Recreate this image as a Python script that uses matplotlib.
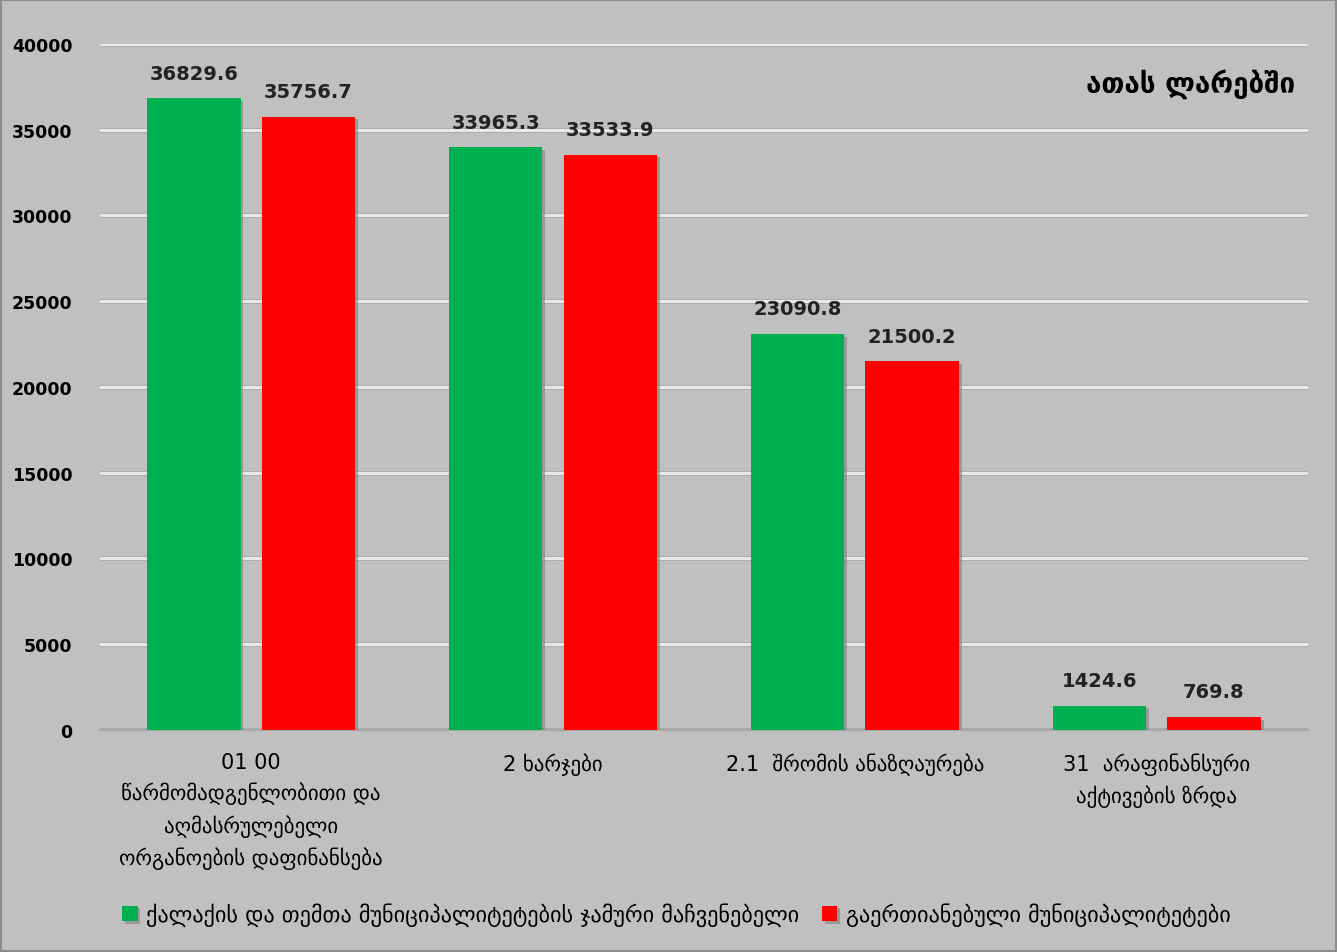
import numpy as np
import matplotlib.pyplot as plt
import matplotlib.patheffects as pe
from matplotlib.patches import Rectangle

categories = [
    "01 00\nწარმომადგენლობითი და\nაღმასრულებელი\nორგანოების დაფინანსება",
    "2 ხარჯები",
    "2.1  შრომის ანაზღაურება",
    "31  არაფინანსური\nაქტივების ზრდა",
]
series_names = [
    "ქალაქის და თემთა მუნიციპალიტეტების ჯამური მაჩვენებელი",
    "გაერთიანებული მუნიციპალიტეტები",
]
city_vals = [36829.6, 33965.3, 23090.8, 1424.6]
united_vals = [35756.7, 33533.9, 21500.2, 769.8]
colors = ["#00B050", "#FF0000"]

plt.rcParams["font.family"] = ["DejaVu Sans"]

fig = plt.figure(figsize=(13.37, 9.53), dpi=100)
fig.patch.set_facecolor("#C0C0C0")
ax = fig.add_axes([0.075, 0.233, 0.903, 0.72])
ax.set_facecolor("#C0C0C0")

x = np.arange(len(categories))
width = 0.31
shadow = [pe.SimplePatchShadow(offset=(2, -2), shadow_rgbFace="#808080", alpha=0.6), pe.Normal()]

for i, (vals, c) in enumerate(zip([city_vals, united_vals], colors)):
    pos = x + (-0.19 if i == 0 else 0.19)
    bars = ax.bar(pos, vals, width, color=c, label=series_names[i], zorder=3)
    for b in bars:
        b.set_path_effects(shadow)
    for p, v in zip(pos, vals):
        ax.text(p, v + 900, f"{v:.1f}", ha="center", va="bottom",
                fontsize=14, fontweight="bold", color="#222222")

ax.set_xlim(-0.5, 3.5)
ax.set_ylim(0, 40000)
ax.set_yticks(np.arange(0, 40001, 5000))
ax.tick_params(axis="y", length=0, labelsize=12.5, pad=20)
for t in ax.get_yticklabels():
    t.set_fontweight("bold")
ax.set_xticks(x)
ax.set_xticklabels(categories, fontsize=15, linespacing=1.55)
ax.tick_params(axis="x", length=0, pad=16)

ax.grid(axis="y", color="#E8E8E8", lw=2.2, zorder=0,
        path_effects=[pe.Stroke(linewidth=3.4, foreground="#A8A8A8"), pe.Normal()])
for s in ["top", "right", "left"]:
    ax.spines[s].set_visible(False)
ax.spines["bottom"].set_color("#A8A8A8")
ax.spines["bottom"].set_linewidth(1.5)

ax.text(0.99, 0.965, "ათას ლარებში", transform=ax.transAxes, ha="right", va="top",
        fontsize=20, fontweight="bold")

fig.legend(loc="lower center", bbox_to_anchor=(0.506, 0.006), ncol=2, frameon=False,
           fontsize=16, handlelength=0.7, handleheight=0.7, handletextpad=0.4, columnspacing=1.0)

fig.patches.append(Rectangle((0.0005, 0.0007), 0.999, 0.9986, transform=fig.transFigure,
                             fill=False, edgecolor="#8C8C8C", lw=1.5))

fig.savefig("out.png", dpi=100, facecolor=fig.get_facecolor())
